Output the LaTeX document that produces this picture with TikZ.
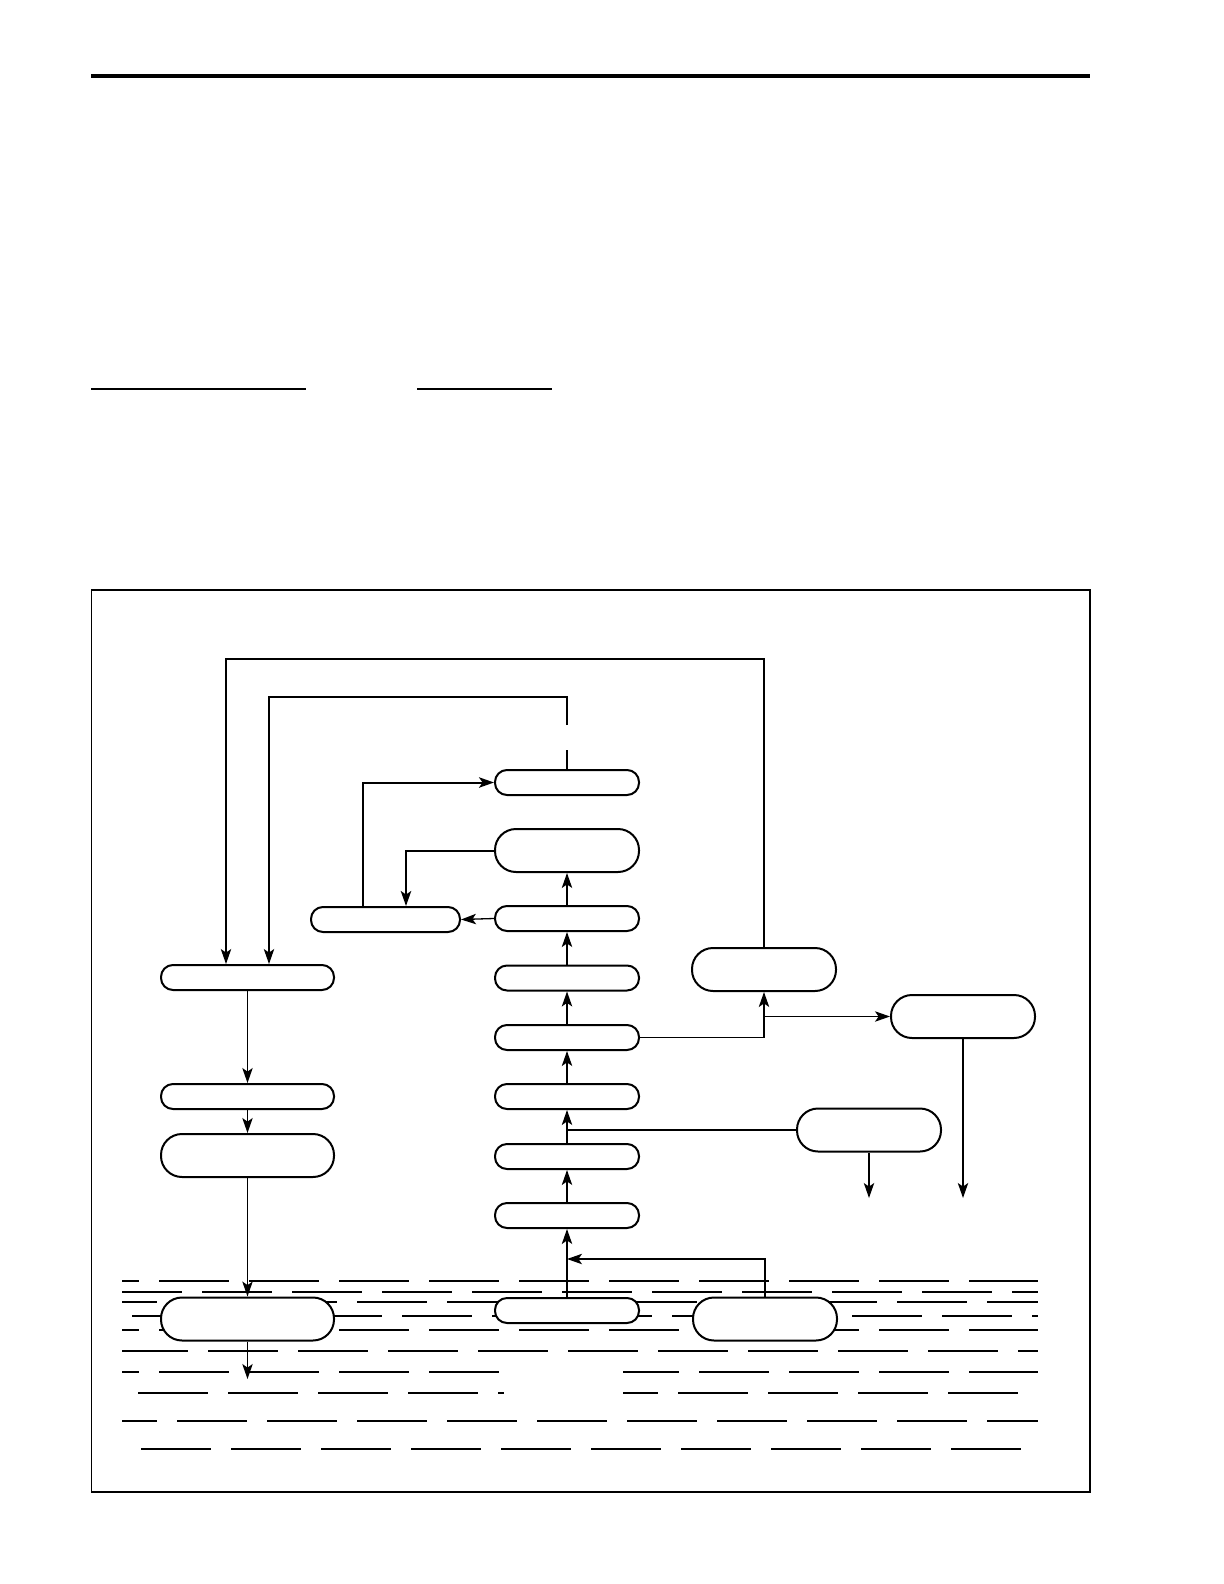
\documentclass[tikz,border=0pt]{standalone}
\usepackage{tikz}
\usetikzlibrary{arrows.meta, positioning, calc}

\begin{document}
\begin{tikzpicture}[
    x=0.5pt, y=-0.5pt,
    capsule/.style={draw, line width=1pt, fill=white, rounded corners=6pt, minimum width=72pt, minimum height=12.5pt, inner sep=0pt},
    tallcap/.style={capsule, rounded corners=10.5pt, minimum height=21.5pt},
    link/.style={line width=0.65pt},
    arr/.style={link, -{Stealth[length=7.5pt, width=5.2pt, inset=1.8pt]}}
]
    \useasboundingbox (0,0) rectangle (1224,1584);

    % Header rules
    \draw[line width=2pt] (91,76) -- (1090,76);
    \draw[line width=0.8pt] (91,389) -- (306,389);
    \draw[line width=0.8pt] (417,389) -- (552,389);

    % Frame
    \draw[line width=0.8pt] (91.5,590) rectangle (1090,1492);

    % Water surface
    \foreach \y/\xa/\xb/\ph in {1281/122/1038/26.5, 1292/122/1038/5, 1302/122/1038/17.5,
        1316/132/1038/0, 1330/122/1038/26.5, 1351/122/1038/2, 1372/122/499/26.5,
        1372/623/1038/7, 1393/138/504/0, 1393/623/1018/17.5, 1421/122/1038/17.5,
        1449/141/1021/0}
        \draw[line width=0.6pt, dash pattern=on 35pt off 10pt, dash phase=\ph pt] (\xa,\y) -- (\xb,\y);

    % Centre column
    \node[capsule] (top) at (567,782.5) {};
    \node[tallcap] (upper) at (567,850.5) {};
    \node[capsule] (c1) at (567,918.5) {};
    \node[capsule] (c2) at (567,978) {};
    \node[capsule] (c3) at (567,1037.5) {};
    \node[capsule] (c4) at (567,1096.5) {};
    \node[capsule] (c5) at (567,1156.5) {};
    \node[capsule] (c6) at (567,1215.5) {};
    \node[capsule] (base) at (567,1310.5) {};

    % Left side
    \node[capsule, minimum width=74.5pt] (side) at (385.5,919.5) {};
    \node[capsule, minimum width=86.5pt] (l1) at (247.5,977.5) {};
    \node[capsule, minimum width=86.5pt] (l2) at (247.5,1096.5) {};
    \node[tallcap, minimum width=86.5pt] (l3) at (247.5,1155.5) {};
    \node[tallcap, minimum width=86.5pt] (l4) at (247.5,1319) {};

    % Right side
    \node[tallcap] (r1) at (764,969.5) {};
    \node[tallcap] (r2) at (963,1016.5) {};
    \node[tallcap] (r3) at (869,1130) {};
    \node[tallcap] (rbase) at (765,1319) {};

    % Free ends
    \coordinate (fbA) at (226,659);
    \coordinate (fbB) at (269,697);
    \coordinate (gapHi) at (567,725);
    \coordinate (gapLo) at (567,750);
    \coordinate (join) at (567,1259);
    \coordinate (r3out) at (869,1198);
    \coordinate (l4out) at (247.5,1379);

    % Centre flow
    \draw[arr] (base) -- (c6);
    \draw[arr] (c6) -- (c5);
    \draw[arr] (c5) -- (c4);
    \draw[arr] (c4) -- (c3);
    \draw[arr] (c3) -- (c2);
    \draw[arr] (c2) -- (c1);
    \draw[arr] (c1) -- (upper);
    \draw[arr] (c1.west) -- (side.east);
    \draw[arr, line width=1pt] (upper.west) -| ($(side.north)+(20.5,0)$);
    \draw[arr, line width=1pt] ($(side.north)+(-22.5,0)$) |- (top.west);

    % Right flow
    \draw[arr] (rbase.north) |- (join);
    \draw[link] (r3.west) -- (r3.west -| c5.north);
    \draw[arr] (c3.east) -| (r1.south);
    \draw[arr] (r1.south |- r2.west) -- (r2.west);
    \draw[arr] (r3.south) -- (r3out);
    \draw[arr] (r2.south) -- (r2.south |- r3out);

    % Return lines
    \draw[arr] (r1.north) |- (fbA) -- (fbA |- l1.north);
    \draw[link, line width=1pt] (top.north) -- (gapLo);
    \draw[arr] (gapHi) |- (fbB) -- (fbB |- l1.north);

    % Left flow
    \draw[arr] (l1) -- (l2);
    \draw[arr] (l2) -- (l3);
    \draw[arr] (l3) -- (l4);
    \draw[arr] (l4) -- (l4out);
\end{tikzpicture}
\end{document}
